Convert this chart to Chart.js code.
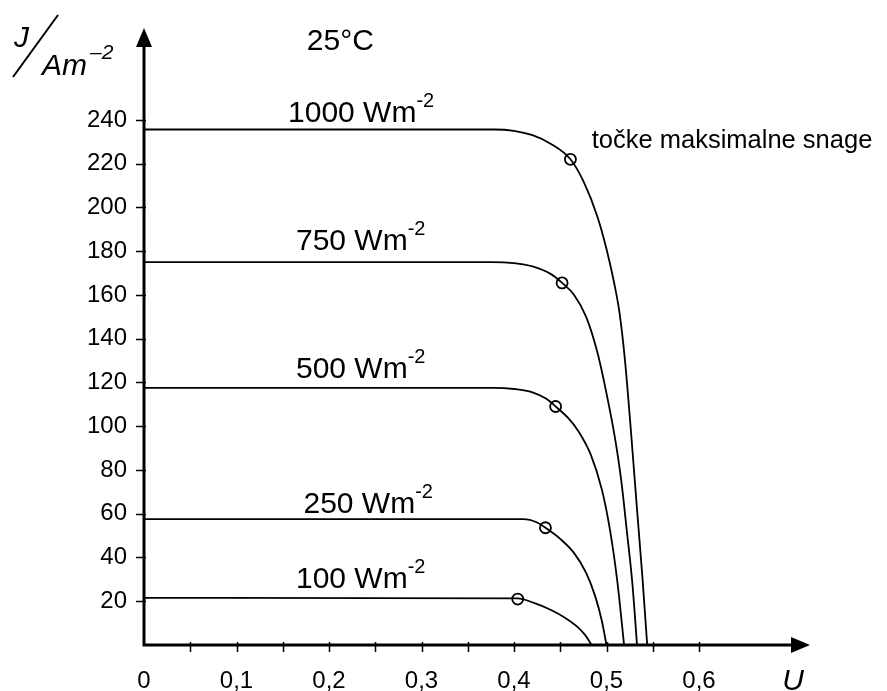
<!DOCTYPE html>
<html>
<head>
<meta charset="utf-8">
<script src="https://cdn.jsdelivr.net/npm/chart.js@4.4.1/dist/chart.umd.min.js"></script>
<style>
  html, body { margin: 0; padding: 0; background: #fff; }
  #wrap { width: 887px; height: 691px; position: relative; }
</style>
</head>
<body>
<div id="wrap"><canvas id="chart"></canvas></div>
<script>
// J-U characteristics of a solar cell at 25°C for several irradiances
const irradiances = ['1000', '750', '500', '250', '100'];

const u1000 = [0, 0.378, 0.40, 0.42, 0.44, 0.461, 0.475, 0.49, 0.50, 0.508, 0.514, 0.52, 0.526, 0.533, 0.539, 0.544];
const j1000 = [235.6, 235.6, 235, 233, 229, 222, 212, 196, 181, 166, 152, 130, 100, 62, 30, 0];

const u750 = [0, 0.376, 0.40, 0.42, 0.44, 0.452, 0.465, 0.478, 0.49, 0.50, 0.509, 0.516, 0.522, 0.528, 0.533];
const j750 = [175, 175, 174.5, 173, 169.5, 165.5, 160, 150, 134, 115, 95, 75, 52, 28, 0];

const u500 = [0, 0.378, 0.40, 0.42, 0.435, 0.445, 0.458, 0.47, 0.483, 0.495, 0.504, 0.512, 0.519];
const j500 = [117.5, 117.5, 117, 115.5, 112.5, 109, 104, 97.5, 87, 71, 52, 28, 0];

const u250 = [0, 0.41, 0.425, 0.434, 0.45, 0.465, 0.478, 0.488, 0.495, 0.5];
const j250 = [57.5, 57.5, 56, 53.6, 48.5, 42, 33, 22, 11, 0];

const u100 = [0, 0.404, 0.42, 0.44, 0.455, 0.468, 0.477, 0.484];
const j100 = [21.5, 21.3, 19.5, 16, 12.5, 8.5, 4.5, 0];

// maximum power points
const mppU = [0.461, 0.452, 0.445, 0.434, 0.404];
const mppJ = [222, 165.5, 109, 53.6, 21];

const xTicks = [0.05, 0.1, 0.15, 0.2, 0.25, 0.3, 0.35, 0.4, 0.45, 0.5, 0.55, 0.6];
const xLabels = [0, 0.1, 0.2, 0.3, 0.4, 0.5, 0.6];
const yTicks = [20, 40, 60, 80, 100, 120, 140, 160, 180, 200, 220, 240];

const FONT = '"Liberation Sans", Arial, sans-serif';

function toPoints(us, js) {
  return us.map((u, i) => ({ x: u, y: js[i] }));
}

const curves = [
  toPoints(u1000, j1000),
  toPoints(u750, j750),
  toPoints(u500, j500),
  toPoints(u250, j250),
  toPoints(u100, j100)
];

// label anchors (data units) for the irradiance captions
const captionAt = [
  { x: 0.1557, y: 239 },
  { x: 0.1643, y: 180.5 },
  { x: 0.1643, y: 122 },
  { x: 0.1724, y: 60.5 },
  { x: 0.1643, y: 25.9 }
];

function textWithSup(ctx, x, y, main, sup, size, supSize, rise) {
  ctx.font = size + 'px ' + FONT;
  ctx.fillText(main, x, y);
  const w = ctx.measureText(main).width;
  ctx.font = supSize + 'px ' + FONT;
  ctx.fillText(sup, x + w, y - rise);
}

const axesPlugin = {
  id: 'axesPlugin',
  afterDatasetsDraw(chart) {
    const ctx = chart.ctx;
    const xs = chart.scales.x;
    const ys = chart.scales.y;
    const x0 = xs.getPixelForValue(0);
    const y0 = ys.getPixelForValue(0);
    const top = chart.chartArea.top;
    const right = chart.chartArea.right;

    ctx.save();
    ctx.strokeStyle = '#000';
    ctx.fillStyle = '#000';

    // axis lines
    ctx.lineWidth = 3;
    ctx.beginPath();
    ctx.moveTo(x0, y0 + 1.5);
    ctx.lineTo(x0, top + 14);
    ctx.moveTo(x0 - 1.5, y0);
    ctx.lineTo(right - 14, y0);
    ctx.stroke();

    // arrow heads
    ctx.beginPath();
    ctx.moveTo(x0, top);
    ctx.lineTo(x0 + 8, top + 19);
    ctx.lineTo(x0 - 8, top + 19);
    ctx.closePath();
    ctx.fill();
    ctx.beginPath();
    ctx.moveTo(right, y0);
    ctx.lineTo(right - 19, y0 - 8);
    ctx.lineTo(right - 19, y0 + 8);
    ctx.closePath();
    ctx.fill();

    // tick marks
    ctx.lineWidth = 1.5;
    ctx.beginPath();
    xTicks.forEach(v => {
      const px = Math.round(xs.getPixelForValue(v)) + 0.5;
      ctx.moveTo(px, y0 - 3);
      ctx.lineTo(px, y0 + 7);
    });
    yTicks.forEach(v => {
      const py = Math.round(ys.getPixelForValue(v)) + 0.5;
      ctx.moveTo(x0 - 8, py);
      ctx.lineTo(x0 + 2, py);
    });
    ctx.stroke();

    // tick labels
    ctx.font = '24px ' + FONT;
    ctx.textAlign = 'right';
    ctx.textBaseline = 'middle';
    yTicks.forEach(v => {
      ctx.fillText(String(v), x0 - 17, ys.getPixelForValue(v));
    });
    ctx.textAlign = 'center';
    ctx.textBaseline = 'alphabetic';
    xLabels.forEach(v => {
      const txt = v === 0 ? '0' : v.toFixed(1).replace('.', ',');
      ctx.fillText(txt, xs.getPixelForValue(v), y0 + 43);
    });

    // axis titles
    ctx.font = 'italic 30px ' + FONT;
    ctx.textAlign = 'center';
    ctx.fillText('U', right - 17, y0 + 45);
    ctx.textAlign = 'left';
    ctx.fillText('J', 14, 47);
    ctx.fillText('Am', 42, 75);
    ctx.font = 'italic 21px ' + FONT;
    ctx.fillText('\u20132', 90, 59);
    ctx.lineWidth = 2;
    ctx.beginPath();
    ctx.moveTo(13, 77);
    ctx.lineTo(58, 15);
    ctx.stroke();

    // temperature and point captions
    ctx.font = '30px ' + FONT;
    ctx.fillText('25\u00b0C', xs.getPixelForValue(0.176), ys.getPixelForValue(272));
    ctx.font = '25.5px ' + FONT;
    ctx.fillText('to\u010dke maksimalne snage', xs.getPixelForValue(0.484), ys.getPixelForValue(227));

    // irradiance captions
    irradiances.forEach((name, i) => {
      const a = captionAt[i];
      textWithSup(ctx, xs.getPixelForValue(a.x), ys.getPixelForValue(a.y), name + ' Wm', '-2', 30, 20, 15);
    });

    ctx.restore();
  }
};

const datasets = curves.map((pts, i) => ({
  label: irradiances[i] + ' Wm-2',
  data: pts,
  showLine: true,
  borderColor: '#000',
  borderWidth: 1.8,
  pointRadius: 0,
  cubicInterpolationMode: 'monotone',
  fill: false,
  clip: false
}));

datasets.push({
  label: 'MPP',
  data: toPoints(mppU, mppJ),
  showLine: false,
  pointRadius: 5.5,
  pointBorderWidth: 1.8,
  pointBackgroundColor: '#fff',
  pointBorderColor: '#000',
  clip: false
});

new Chart(document.getElementById('chart'), {
  type: 'scatter',
  data: { datasets },
  options: {
    responsive: true,
    maintainAspectRatio: false,
    animation: false,
    layout: { padding: { left: 144, right: 77, top: 28, bottom: 46 } },
    plugins: { legend: { display: false }, tooltip: { enabled: false } },
    scales: {
      x: { type: 'linear', min: 0, max: 0.72, display: false },
      y: { type: 'linear', min: 0, max: 282, display: false }
    }
  },
  plugins: [axesPlugin]
});
</script>
</body>
</html>
